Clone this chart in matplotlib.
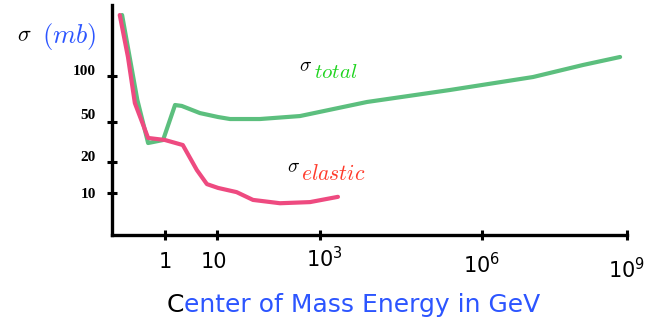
import numpy as np
import matplotlib
matplotlib.use("Agg")
import matplotlib.pyplot as plt
from matplotlib.transforms import ScaledTranslation

# total and elastic cross sections vs centre-of-mass energy
e_total = [0.155, 0.30, 0.48, 0.92, 1.56, 2.1, 4.7, 10.5, 17.9, 68, 409,
           7400, 2.55e5, 1.14e7, 1.23e8, 7.2e8]
sig_total = [329, 70, 30.9, 33.1, 64.6, 63.7, 57.2, 53.9, 52.3, 52.3, 54.7,
             67.6, 81, 98.5, 124, 145]

e_elastic = [0.14, 0.20, 0.27, 0.48, 1.0, 2.2, 4.1, 6.4, 10.5, 24, 50, 167,
             640, 2150]
sig_elastic = [329, 145, 66.5, 34.7, 33.1, 29.5, 16.7, 12.2, 11.2, 10.2, 8.6,
               8.0, 8.2, 9.2]

x_ticks = [1, 10, 1e3, 1e6, 1e9]
x_ticklabels = ["1", "10", r"$10^3$", r"$10^6$", r"$10^9$"]
y_ticks = [10, 20, 50, 100]
y_ticklabels = ["10", "20", "50", "100"]

# the axes are spaced by hand, so each scale is piecewise-log between ticks
X_LOG = np.array([-3, -1, 0, 1, 3, 6, 9, 12])
X_POS = np.array([6, 112, 165, 217, 320, 482, 627, 772])
Y_LOG = np.array([-1, 0.602, 1, 1.301, 1.699, 2, 2.602, 4])
Y_POS = -np.array([400, 235, 193, 162, 122, 76, 5, -160])


def _log(v):
    with np.errstate(divide="ignore", invalid="ignore"):
        return np.log10(np.maximum(np.asarray(v, float), 1e-30))


def xf(v): return np.interp(_log(v), X_LOG, X_POS)
def xi(p): return 10 ** np.interp(p, X_POS, X_LOG)
def yf(v): return np.interp(_log(v), Y_LOG, Y_POS)
def yi(p): return 10 ** np.interp(p, Y_POS, Y_LOG)


W, H, DPI = 648, 322, 100
fig = plt.figure(figsize=(W / DPI, H / DPI), dpi=DPI, facecolor="white")
ax = fig.add_axes([112 / W, (H - 235) / H, 515 / W, 230 / H])
ax.set_xscale("function", functions=(xf, xi))
ax.set_yscale("function", functions=(yf, yi))
ax.set_xlim(0.1, 1e9)
ax.set_ylim(4, 400)

GREEN = "#5cbf7e"
PINK = "#ee4a80"
BLUE = "#2c55ff"
ax.plot(e_total, sig_total, color=GREEN, lw=3, solid_capstyle="round",
        solid_joinstyle="round", zorder=2)
ax.plot(e_elastic, sig_elastic, color=PINK, lw=3, solid_capstyle="round",
        solid_joinstyle="round", zorder=3)

for s in ("top", "right"):
    ax.spines[s].set_visible(False)
for s in ("left", "bottom"):
    ax.spines[s].set_linewidth(2.4)

ax.set_xticks(x_ticks, x_ticklabels)
ax.set_yticks(y_ticks, y_ticklabels)
ax.minorticks_off()
ax.tick_params(axis="both", direction="inout", length=7, width=2.2)
ax.tick_params(axis="x", labelsize=15, pad=9)
ax.tick_params(axis="y", pad=8)
for lbl in ax.get_yticklabels():
    lbl.set_fontfamily("Liberation Serif")
    lbl.set_fontweight("bold")
    lbl.set_fontsize(11)


def nudge(lbl, dx, dy):
    lbl.set_transform(lbl.get_transform()
                      + ScaledTranslation(dx / DPI, dy / DPI, fig.dpi_scale_trans))


for lbl, (dx, dy) in zip(ax.get_xticklabels(),
                         [(0, 0), (-3, 0), (4, 6), (0, 0), (0, -5)]):
    nudge(lbl, dx, dy)
for lbl, dy in zip(ax.get_yticklabels(), [0, 6, 8, 6]):
    nudge(lbl, 0, dy)

# y title
fig.text(17 / W, 1 - 35 / H, r"$\sigma$", color="black", fontsize=16,
         va="center", math_fontfamily="cm")
fig.text(42 / W, 1 - 37 / H, r"$(mb)$", color=BLUE, fontsize=19,
         va="center", math_fontfamily="cm")

# x title: first letter black, the rest blue, set right after it
c = fig.text(167 / W, 1 - 305 / H, "C", color="black", fontsize=18,
             va="center")
ax.annotate("enter of Mass Energy in GeV", xy=(1, 0), xycoords=c,
            ha="left", va="bottom", color=BLUE, fontsize=18,
            annotation_clip=False)

# curve labels
fig.text(299 / W, 1 - 66 / H, r"$\sigma$", color="black", fontsize=14,
         va="center", math_fontfamily="cm")
fig.text(314 / W, 1 - 72 / H, r"$\mathit{total}$", color="#1ed41e",
         fontsize=15, va="center", math_fontfamily="cm")
fig.text(287 / W, 1 - 167 / H, r"$\sigma$", color="black", fontsize=14,
         va="center", math_fontfamily="cm")
fig.text(301 / W, 1 - 174 / H, r"$\mathit{elastic}$", color="#ff3a2a",
         fontsize=15.5, va="center", math_fontfamily="cm")

fig.savefig("out.png", dpi=DPI, facecolor="white")
